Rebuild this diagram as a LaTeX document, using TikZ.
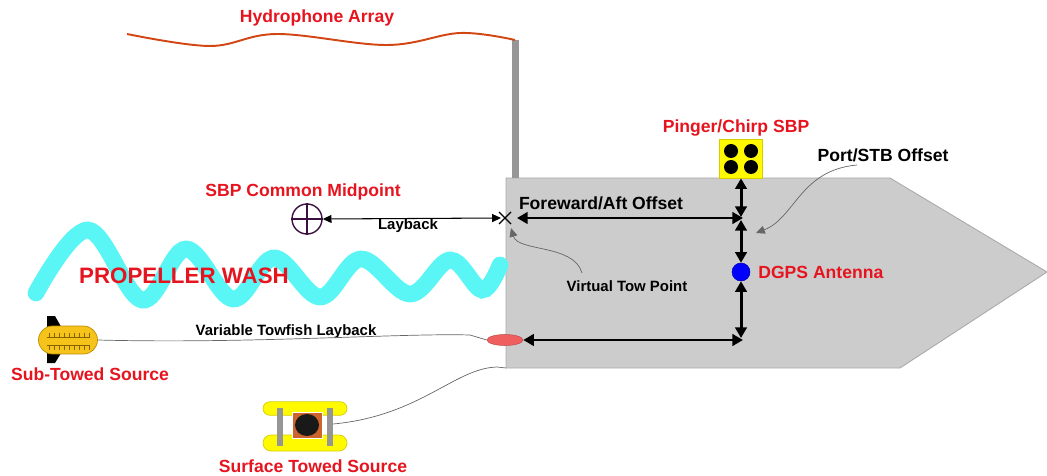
\documentclass[tikz,border=0pt]{standalone}
\usepackage{fontspec}
\setmainfont{Liberation Sans}
\usetikzlibrary{arrows.meta,shapes.misc,shapes.geometric,calc}
\definecolor{lblred}{RGB}{230,20,30}
\definecolor{hullgray}{RGB}{204,204,204}
\definecolor{hulledge}{RGB}{170,170,170}
\definecolor{mastgray}{RGB}{150,150,150}
\definecolor{washcyan}{RGB}{90,245,245}
\definecolor{arrayred}{RGB}{210,70,20}
\definecolor{subyellow}{RGB}{245,195,25}
\definecolor{subedge}{RGB}{190,140,0}
\definecolor{surfyellow}{RGB}{255,250,0}
\definecolor{surfedge}{RGB}{215,205,0}
\definecolor{boxorange}{RGB}{205,100,45}
\definecolor{pillred}{RGB}{240,95,95}
\definecolor{cmppurple}{RGB}{60,15,65}
\tikzset{
  redlbl/.style={text=lblred, font=\bfseries\fontsize{10}{12}\selectfont, inner sep=0pt},
  blklbl/.style={text=black, font=\bfseries\fontsize{10}{12}\selectfont, inner sep=0pt},
  smalllbl/.style={text=black, font=\bfseries\fontsize{8.5}{10}\selectfont, inner sep=0pt},
  offsetarrow/.style={line width=1.7pt, {Triangle[length=6pt,width=6.5pt]}-{Triangle[length=6pt,width=6.5pt]}},
  thinarrow/.style={line width=0.6pt, {Triangle[length=5pt,width=4.5pt]}-{Triangle[length=5pt,width=4.5pt]}},
  leader/.style={draw=gray!80!black, line width=0.4pt, -{Triangle[length=5pt,width=4.5pt]}},
  towline/.style={draw=gray!80!black, line width=0.4pt}
}
\begin{document}
\begin{tikzpicture}[x=0.02cm, y=-0.02cm]
\useasboundingbox (0,0) rectangle (1047,476);

% vessel hull and mast
\filldraw[fill=hullgray, draw=hulledge, line width=0.5pt]
  (506,178) -- (890,178) -- (1047,272) -- (900,368) -- (506,368) -- cycle;
\fill[mastgray] (512,40) rectangle (519,178);

% hydrophone streamer
\draw[arrayred, line width=1.1pt] plot[smooth, tension=0.6] coordinates
  {(127,34) (210,46) (277,34) (387,45) (460,33) (515,40)};
\node[redlbl] (hydro) at (317,18) {Hydrophone Array};

% propeller wash
\draw[washcyan, line width=9.5pt, line cap=round] plot[smooth, tension=0.6] coordinates
  {(36,293) (88,230) (142,300) (186,249) (233,299) (274,258) (320,297) (361,259) (410,294) (450,260) (482,290) (500,265)};
\node[redlbl, font=\bfseries\fontsize{12.7}{14}\selectfont] (wash) at (184,276) {PROPELLER WASH};

% pinger / chirp sub-bottom profiler
\node[draw=surfedge, fill=surfyellow, line width=0.4pt, minimum width=0.86cm, minimum height=0.78cm, inner sep=0pt] (pinger) at (741,158.5) {};
\foreach \px/\py in {731/151, 751/151, 731/167, 751/167}
  \fill[black] (\px,\py) circle[radius=7];
\node[redlbl] (pingerlbl) at (736,128) {Pinger/Chirp SBP};

% DGPS antenna
\node[circle, fill=blue, draw=blue!70!black, line width=0.3pt, minimum size=0.36cm, inner sep=0pt] (dgps) at (741,272) {};
\node[redlbl, anchor=west] (dgpslbl) at (758,272) {DGPS Antenna};

% reference points
\coordinate (vtp) at (505,218);
\coordinate (xoff) at (741,218);
\coordinate (corner) at (741,340);
\draw[line width=0.7pt] ($(vtp)+(-6,-6)$) -- ($(vtp)+(6,6)$) ($(vtp)+(-6,6)$) -- ($(vtp)+(6,-6)$);

% SBP common midpoint
\node[circle, draw=cmppurple, line width=0.8pt, minimum size=0.6cm, inner sep=0pt] (cmp) at (307,219) {};
\draw[cmppurple, line width=0.8pt] (cmp.north) -- (cmp.south) (cmp.west) -- (cmp.east);
\node[redlbl] (cmplbl) at (303,192) {SBP Common Midpoint};

% towfish pill at the tow point
\node[ellipse, fill=pillred, draw=pillred!80!black, line width=0.3pt, minimum width=0.72cm, minimum height=0.22cm, inner sep=0pt] (pill) at (505,340) {};

% offset arrows
\draw[offsetarrow] (pinger.south) -- ($(xoff)+(0,-1)$);
\draw[offsetarrow] ($(xoff)+(0,2)$) -- (dgps.north);
\draw[offsetarrow] (dgps.south) -- ($(corner)+(0,-2)$);
\draw[offsetarrow] ($(vtp)+(12,0)$) -- ($(xoff)+(2,0)$);
\draw[offsetarrow] (pill.east) -- ($(corner)+(2,0)$);
\node[blklbl] (falbl) at (601,203) {Foreward/Aft Offset};

% layback
\draw[thinarrow] (cmp.east) -- ($(vtp)+(-4,0)$);
\node[smalllbl] (laylbl) at (408,226) {Layback};

% leaders
\node[smalllbl] (vtplbl) at (627,286) {Virtual Tow Point};
\draw[leader] (582,273) .. controls (574,244) and (518,252) .. ($(vtp)+(6,10)$);
\node[blklbl] (psolbl) at (883,155) {Port/STB Offset};
\draw[leader] (857,165) .. controls (800,170) and (795,218) .. (756,233);

% sub-towed source
\fill[black] (47,316) -- (55,316) -- (63,330) -- (63,350) -- (55,363) -- (47,363) -- cycle;
\node[rounded rectangle, fill=subyellow, draw=subedge, line width=0.4pt, minimum width=1.18cm, minimum height=0.56cm, inner sep=0pt] (sub) at (68,340) {};
\draw[subedge!70!black, line width=0.35pt] (47,337) -- (90,337) (47,345) -- (90,345);
\foreach \tx in {49,54,...,89} {
  \draw[subedge!70!black, line width=0.35pt] (\tx,332.5) -- (\tx,337) (\tx,345) -- (\tx,349.5);
}
\node[redlbl] (sublbl) at (90,374) {Sub-Towed Source};
\node[smalllbl] (vtllbl) at (286,332) {Variable Towfish Layback};
\draw[towline] (sub.east) .. controls (250,344) and (400,333) .. (470,335) -- (pill.west);

% surface towed source
\node[rounded rectangle, fill=surfyellow, draw=surfedge, line width=0.4pt, minimum width=1.68cm, minimum height=0.27cm, inner sep=0pt] (floattop) at (305,408.5) {};
\node[rounded rectangle, fill=surfyellow, draw=surfedge, line width=0.4pt, minimum width=1.68cm, minimum height=0.32cm, inner sep=0pt] (floatbot) at (305,443) {};
\fill[mastgray] (277,408) rectangle (283,446);
\fill[mastgray] (327,408) rectangle (333,446);
\node[fill=boxorange, draw=white, line width=0.5pt, minimum width=0.6cm, minimum height=0.52cm, inner sep=0pt] (surf) at (307,425) {};
\fill[black!90] (surf.center) ellipse[x radius=12, y radius=11];
\node[redlbl] (surflbl) at (313,466) {Surface Towed Source};
\draw[towline] (333,424) .. controls (420,416) and (455,368) .. (497,367) -- (506,368);
\end{tikzpicture}
\end{document}
